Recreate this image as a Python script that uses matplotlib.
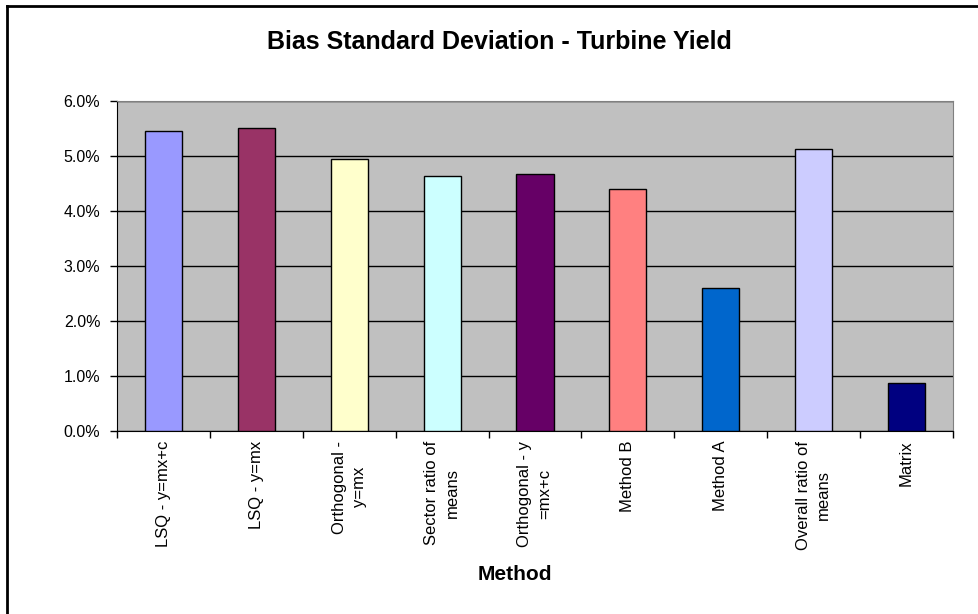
import matplotlib
matplotlib.use("Agg")
import matplotlib.pyplot as plt
from matplotlib.ticker import FuncFormatter, MultipleLocator
from matplotlib.lines import Line2D

plt.rcParams['font.family'] = ['Liberation Sans', 'DejaVu Sans']

methods = ["LSQ - y=mx+c", "LSQ - y=mx", "Orthogonal -\ny=mx", "Sector ratio of\nmeans",
           "Orthogonal - y\n=mx+c", "Method B", "Method A", "Overall ratio of\nmeans", "Matrix"]
bias_sd = [5.45, 5.51, 4.94, 4.64, 4.67, 4.40, 2.60, 5.12, 0.87]
colors = ["#9999FF", "#993366", "#FFFFCC", "#CCFFFF", "#660066",
          "#FF8080", "#0066CC", "#CCCCFF", "#000080"]

W, H = 979, 614
fig = plt.figure(figsize=(W / 100, H / 100), dpi=100)
ax = fig.add_axes([117 / W, 1 - 431 / H, (953 - 117) / W, (431 - 101) / H])

x = list(range(len(methods)))
ax.bar(x, bias_sd, width=0.4, color=colors, edgecolor="black", linewidth=1, zorder=3)

ax.set_facecolor("#C0C0C0")
ax.set_xlim(-0.5, len(methods) - 0.5)
ax.set_ylim(0, 6)
ax.yaxis.set_major_locator(MultipleLocator(1))
ax.yaxis.set_major_formatter(FuncFormatter(lambda v, p: f"{v:.1f}%"))
ax.grid(axis="y", color="black", linewidth=1, zorder=1)

# category ticks sit between bars, labels centred under each bar
ax.set_xticks([i - 0.5 for i in range(len(methods) + 1)])
ax.set_xticklabels([])
ax.set_xticks(x, minor=True)
ax.set_xticklabels(methods, minor=True, rotation=90, fontsize=12, va="top", ha="center",
                   multialignment="center", linespacing=1.45)
ax.tick_params(axis="x", which="minor", length=0, pad=7)
ax.tick_params(axis="x", which="major", length=5, width=1, direction="out")
ax.tick_params(axis="y", length=5, width=1, direction="out", labelsize=11.5, pad=7)

for side in ["top", "right"]:
    ax.spines[side].set_color("#808080")
for side in ["left", "bottom"]:
    ax.spines[side].set_color("black")

fig.text(499 / W, 1 - 42 / H, "Bias Standard Deviation - Turbine Yield",
         fontsize=18, fontweight="bold", ha="center", va="center")
fig.text(515 / W, 1 - 574 / H, "Method", fontsize=15, fontweight="bold",
         ha="center", va="center")

# chart area border (left and top edges)
fig.add_artist(Line2D([7 / W, 7 / W], [0, 1 - 6 / H], color="black", linewidth=2,
                      transform=fig.transFigure))
fig.add_artist(Line2D([7 / W, 1], [1 - 6 / H, 1 - 6 / H], color="black", linewidth=2,
                      transform=fig.transFigure))

fig.savefig("out.png", dpi=100)
